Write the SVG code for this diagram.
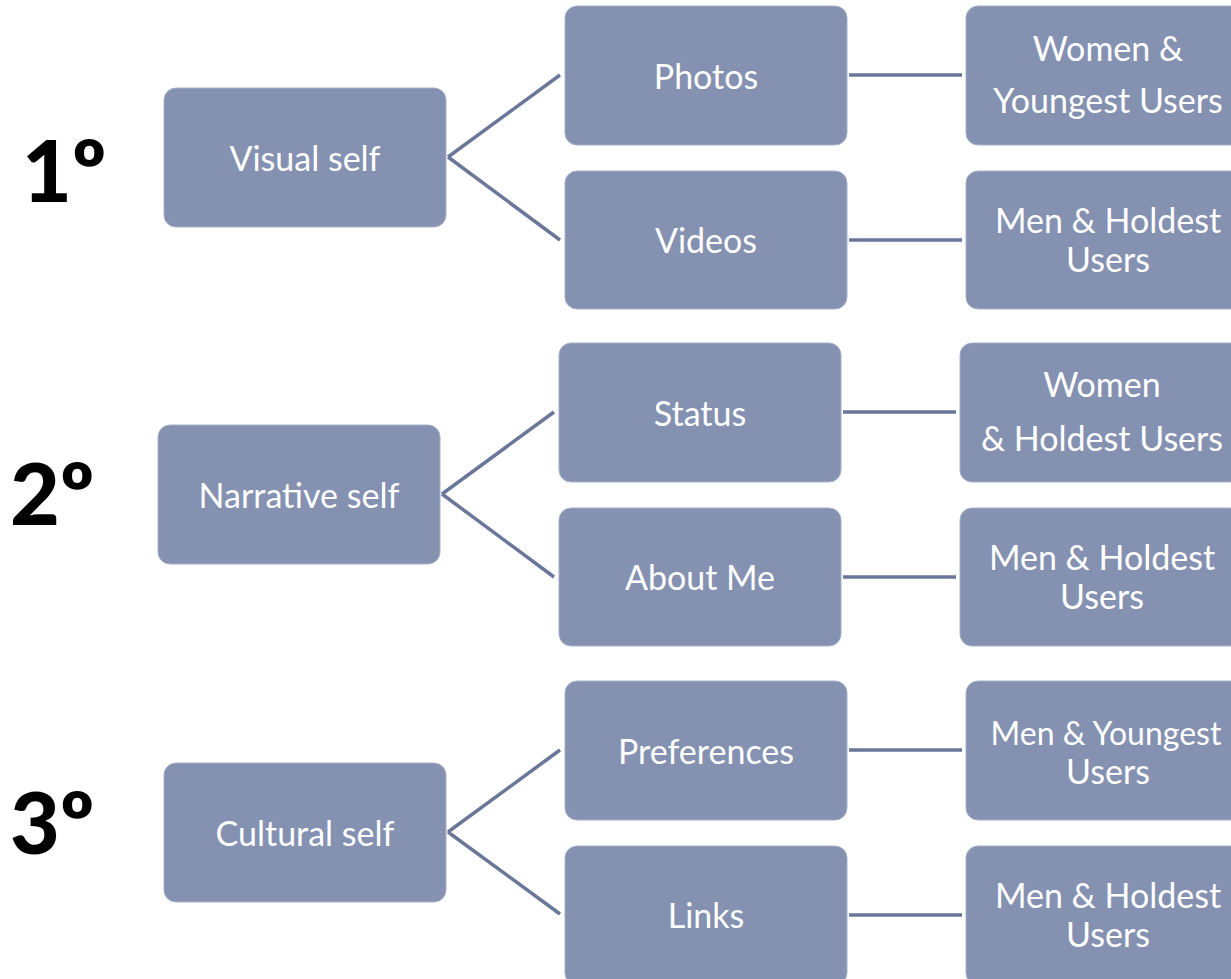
<svg xmlns="http://www.w3.org/2000/svg" width="1231" height="979" viewBox="0 0 1231 979">
<style>
.box{fill:#8591b1;stroke:#a7b0c8;stroke-width:1}
.t{font-family:Lato,"Open Sans",sans-serif;font-size:34px;fill:#ffffff;text-anchor:middle}
.num{font-family:Lato,"Liberation Sans",sans-serif;font-weight:900;font-size:86px;fill:#000000}
.c{stroke:#6b7799;stroke-width:3.5;fill:none}
</style>
<rect width="1231" height="979" fill="#ffffff"/>
<g id="connectors">
<path class="c" d="M448 157 L560 75 M448 157 L560 240 M849 75 H962 M849 240 H962"/>
<path class="c" d="M442 494 L554 412 M442 494 L554 577 M843 412 H956 M843 577 H956"/>
<path class="c" d="M448 832 L560 750 M448 832 L560 914 M849 750 H962 M849 915 H962"/>
</g>
<g id="label1"><text class="num" x="22" y="202">1º</text></g>
<g id="label2"><text class="num" x="10" y="525">2º</text></g>
<g id="label3"><text class="num" x="10" y="854">3º</text></g>

<g id="visual-self"><rect class="box" x="164" y="88" width="282" height="139" rx="12"/><text class="t" x="305" y="171">Visual self</text></g>
<g id="photos"><rect class="box" x="565" y="6" width="282" height="139" rx="12"/><text class="t" x="706" y="89">Photos</text></g>
<g id="videos"><rect class="box" x="565" y="171" width="282" height="138" rx="12"/><text class="t" x="706" y="253">Videos</text></g>
<g id="women-youngest"><rect class="box" x="966" y="6" width="282" height="139" rx="12"/><text class="t" x="1108" y="61">Women &amp;</text><text class="t" x="1108" y="113">Youngest Users</text></g>
<g id="men-holdest-1"><rect class="box" x="966" y="171" width="282" height="138" rx="12"/><text class="t" x="1108" y="233">Men &amp; Holdest</text><text class="t" x="1108" y="272">Users</text></g>

<g id="narrative-self"><rect class="box" x="158" y="425" width="282" height="139" rx="12"/><text class="t" x="299" y="508">Narrative self</text></g>
<g id="status"><rect class="box" x="559" y="343" width="282" height="139" rx="12"/><text class="t" x="700" y="426">Status</text></g>
<g id="about-me"><rect class="box" x="559" y="508" width="282" height="138" rx="12"/><text class="t" x="700" y="590">About Me</text></g>
<g id="women-holdest"><rect class="box" x="960" y="343" width="282" height="139" rx="12"/><text class="t" x="1102" y="397">Women</text><text class="t" x="1102" y="451">&amp; Holdest Users</text></g>
<g id="men-holdest-2"><rect class="box" x="960" y="508" width="282" height="138" rx="12"/><text class="t" x="1102" y="570">Men &amp; Holdest</text><text class="t" x="1102" y="609">Users</text></g>

<g id="cultural-self"><rect class="box" x="164" y="763" width="282" height="139" rx="12"/><text class="t" x="305" y="846">Cultural self</text></g>
<g id="preferences"><rect class="box" x="565" y="681" width="282" height="139" rx="12"/><text class="t" x="706" y="764">Preferences</text></g>
<g id="links"><rect class="box" x="565" y="846" width="282" height="139" rx="12"/><text class="t" x="706" y="928">Links</text></g>
<g id="men-youngest"><rect class="box" x="966" y="681" width="282" height="139" rx="12"/><text class="t" x="1106" y="745" style="font-size:32px">Men &amp; Youngest</text><text class="t" x="1108" y="784">Users</text></g>
<g id="men-holdest-3"><rect class="box" x="966" y="846" width="282" height="139" rx="12"/><text class="t" x="1108" y="908">Men &amp; Holdest</text><text class="t" x="1108" y="947">Users</text></g>
</svg>
